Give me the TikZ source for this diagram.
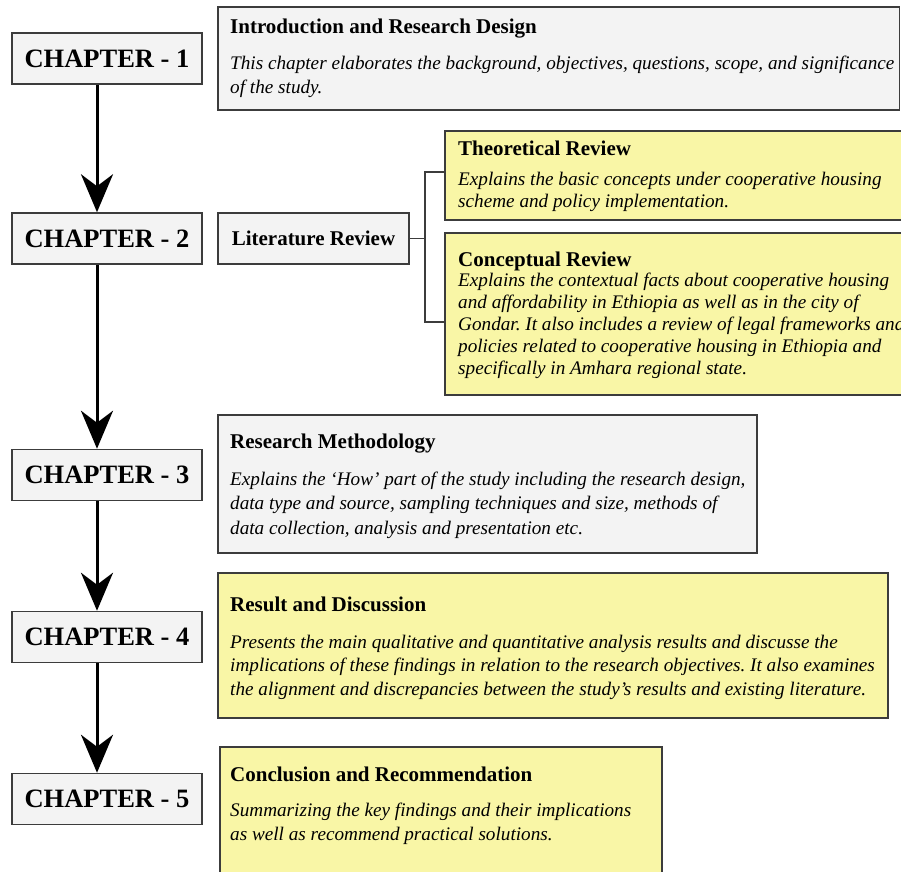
\documentclass[tikz,border=0pt]{standalone}
\usepackage{fontspec}
\setmainfont{Liberation Serif}
\usetikzlibrary{arrows.meta}
\frenchspacing

\definecolor{boxgray}{RGB}{243,243,243}
\definecolor{boxyellow}{RGB}{249,246,166}
\definecolor{edge}{RGB}{60,60,60}

\tikzset{
  chapbox/.style={draw=edge, line width=1.5pt, fill=boxgray, minimum width=190pt,
    minimum height=51pt, inner sep=0pt, font=\fontsize{26.5}{30}\selectfont\bfseries},
  graybox/.style={draw=edge, line width=1.5pt, fill=boxgray},
  yellowbox/.style={draw=edge, line width=1.5pt, fill=boxyellow},
  headtxt/.style={anchor=base west, inner sep=0pt, font=\fontsize{21}{24}\selectfont\bfseries},
  bodytxt/.style={anchor=base west, inner sep=0pt},
  flow/.style={line width=3pt, -{Stealth[length=38pt, width=32pt, inset=12pt]}},
  bracket/.style={draw=edge, line width=1.5pt}
}
\newcommand{\bodyblock}[2]{\parbox[t]{700pt}{\fontsize{19.2}{#1}\selectfont\itshape\frenchspacing #2}}

\begin{document}
\begin{tikzpicture}[x=1pt, y=-1pt]
\useasboundingbox (0,0) rectangle (901,871);

% chapter column
\node[chapbox] (ch1) at (107,58.5) {CHAPTER - 1};
\node[chapbox] (ch2) at (107,238.5) {CHAPTER - 2};
\node[chapbox] (ch3) at (107,475) {CHAPTER - 3};
\node[chapbox] (ch4) at (107,637) {CHAPTER - 4};
\node[chapbox] (ch5) at (107,799) {CHAPTER - 5};

\draw[flow] ([xshift=-10pt]ch1.south) -- ([xshift=-10pt]ch2.north);
\draw[flow] ([xshift=-10pt]ch2.south) -- ([xshift=-10pt]ch3.north);
\draw[flow] ([xshift=-10pt]ch3.south) -- ([xshift=-10pt]ch4.north);
\draw[flow] ([xshift=-10pt]ch4.south) -- ([xshift=-10pt]ch5.north);

% description boxes
\path[graybox] (218,7) rectangle (899.5,110);
\path[graybox] (218,415) rectangle (757,553);
\path[yellowbox] (445,131) rectangle (910,220);
\path[yellowbox] (445,233) rectangle (910,395);
\path[yellowbox] (218,573) rectangle (888,718);
\path[yellowbox] (220,747) rectangle (662,890);

\node[graybox, minimum width=191pt, minimum height=51pt, inner sep=0pt,
      font=\fontsize{21}{24}\selectfont\bfseries] (lit) at (313.5,238.5) {Literature Review};
\node[inner sep=0pt, minimum size=0pt] (theo) at (445,175.5) {};
\node[inner sep=0pt, minimum size=0pt] (conc) at (445,314) {};

% bracket joining the review boxes
\coordinate (br) at (425,238.5);
\coordinate (tj) at (425,172);
\coordinate (cj) at (425,322);
\draw[bracket] (lit.east) -- (br);
\draw[bracket] (tj -| theo.west) -- (tj) -- (cj) -- (cj -| conc.west);

% texts
\node[headtxt] (h1) at (230,33) {Introduction and Research Design};
\node[bodytxt] (b1) at (230,69) {\bodyblock{24}{This chapter elaborates the background, objectives, questions, scope, and significance\\
of the study.}};

\node[headtxt] (h2a) at (458,155) {Theoretical Review};
\node[bodytxt] (b2a) at (458,185) {\bodyblock{22.5}{Explains the basic concepts under cooperative housing\\
scheme and policy implementation.}};

\node[headtxt] (h2b) at (458,266) {Conceptual Review};
\node[bodytxt] (b2b) at (458,286) {\bodyblock{22}{Explains the contextual facts about cooperative housing\\
and affordability in Ethiopia as well as in the city of\\
Gondar. It also includes a review of legal frameworks and\\
policies related to cooperative housing in Ethiopia and\\
specifically in Amhara regional state.}};

\node[headtxt] (h3) at (230,448) {Research Methodology};
\node[bodytxt] (b3) at (230,485) {\bodyblock{24.5}{Explains the `How' part of the study including the research design,\\
data type and source, sampling techniques and size, methods of\\
data collection, analysis and presentation etc.}};

\node[headtxt] (h4) at (230,611) {Result and Discussion};
\node[bodytxt] (b4) at (230,648) {\bodyblock{23.5}{Presents the main qualitative and quantitative analysis results and discusse the\\
implications of these findings in relation to the research objectives. It also examines\\
the alignment and discrepancies between the study's results and existing literature.}};

\node[headtxt] (h5) at (230,781) {Conclusion and Recommendation};
\node[bodytxt] (b5) at (230,816) {\bodyblock{24}{Summarizing the key findings and their implications\\
as well as recommend practical solutions.}};
\end{tikzpicture}
\end{document}
